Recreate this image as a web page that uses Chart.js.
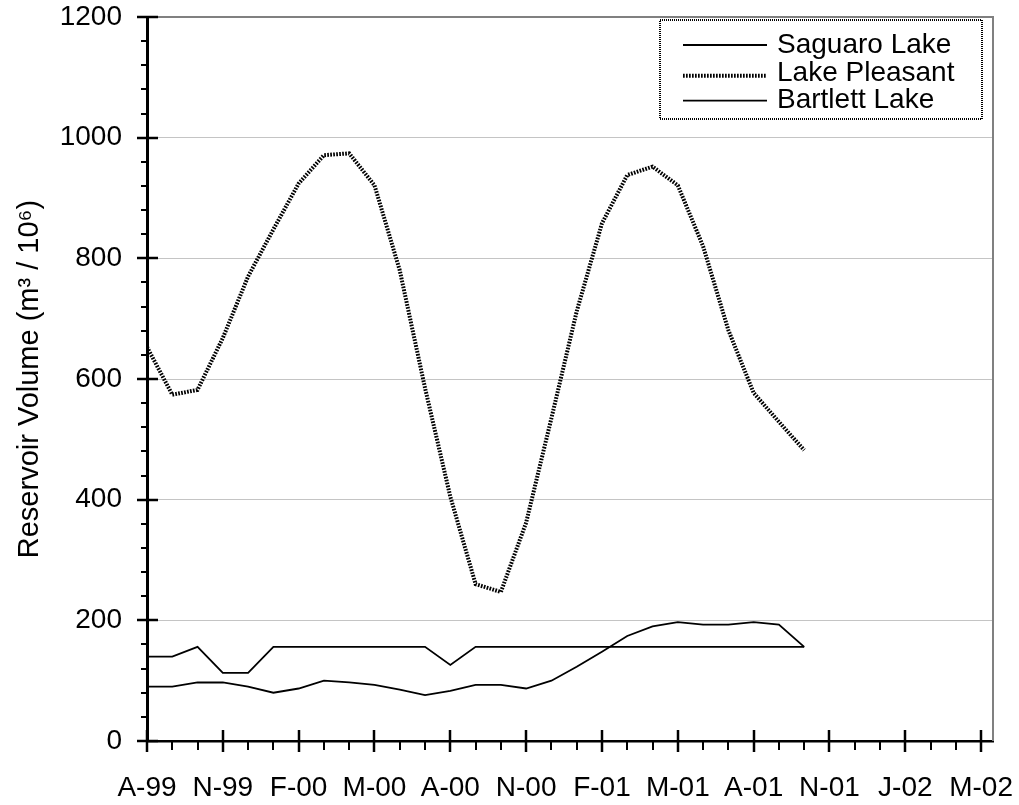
<!DOCTYPE html>
<html>
<head>
<meta charset="utf-8">
<script src="https://cdn.jsdelivr.net/npm/chart.js@4.4.1/dist/chart.umd.min.js"></script>
<style>
    html, body { margin: 0; padding: 0; background: #fff; }
    #wrap { width: 1019px; height: 805px; position: relative; }
</style>
</head>
<body>
<div id="wrap"><canvas id="chart"></canvas></div>
<script>
// months counted from Aug 1999
const months = [0, 1, 2, 3, 4, 5, 6, 7, 8, 9, 10, 11, 12, 13, 14, 15, 16, 17, 18, 19, 20, 21, 22, 23, 24, 25, 26];

const xTickPos = [0, 3, 6, 9, 12, 15, 18, 21, 24, 27, 30, 33];
const xTickLabels = ["A-99", "N-99", "F-00", "M-00", "A-00", "N-00", "F-01", "M-01", "A-01", "N-01", "J-02", "M-02"];

// reservoir volume, m3 / 10^6
const saguaro = [140, 140, 156, 113, 113, 156, 156, 156, 156, 156, 156, 156, 126, 156,
    156, 156, 156, 156, 156, 156, 156, 156, 156, 156, 156, 156, 156];
const pleasant = [653, 574, 582, 668, 770, 848, 924, 971, 974, 921, 780, 585, 405, 260,
    247, 362, 535, 712, 858, 938, 952, 921, 820, 681, 577, 529, 482];
const bartlett = [90, 90, 97, 97, 90, 80, 87, 100, 97, 93, 85, 76, 83, 93,
    93, 87, 100, 123, 148, 174, 190, 197, 193, 193, 197, 193, 156];

const FONT = "'Liberation Sans', Arial, sans-serif";

function toPoints(values) {
    return values.map((v, i) => ({ x: months[i], y: v }));
}

// ==========================
// TICK MARKS, FRAME, LEGEND
// ==========================

const decorations = {
    id: "decorations",
    afterDraw(chart) {
        const c = chart.ctx;
        const area = chart.chartArea;
        const xs = chart.scales.x;
        const ys = chart.scales.y;

        c.save();

        // right frame
        c.strokeStyle = "#808080";
        c.lineWidth = 2;
        c.beginPath();
        c.moveTo(area.right, area.top - 1);
        c.lineTo(area.right, area.bottom);
        c.stroke();

        c.strokeStyle = "#000";

        // y ticks
        for (let v = 0; v <= 1200; v += 40) {
            const py = Math.round(ys.getPixelForValue(v));
            c.beginPath();
            if (v % 200 === 0) {
                c.lineWidth = 2.5;
                c.moveTo(area.left - 10, py);
                c.lineTo(area.left + 11, py);
            } else {
                c.lineWidth = 2;
                c.moveTo(area.left - 6, py);
                c.lineTo(area.left, py);
            }
            c.stroke();
        }

        // x ticks
        for (let m = 0; m <= 33; m++) {
            const px = Math.round(xs.getPixelForValue(m));
            c.beginPath();
            if (m % 3 === 0) {
                c.lineWidth = 2.5;
                c.moveTo(px, area.bottom - 11);
                c.lineTo(px, area.bottom + 11);
            } else {
                c.lineWidth = 2;
                c.moveTo(px, area.bottom);
                c.lineTo(px, area.bottom + 9);
            }
            c.stroke();
        }

        // legend box
        const bx = 660, by = 20, bw = 322, bh = 99;
        c.fillStyle = "#fff";
        c.fillRect(bx, by, bw, bh);
        c.lineWidth = 2;
        c.setLineDash([1, 1]);
        c.strokeStyle = "#000";
        c.strokeRect(bx, by, bw, bh);

        c.font = "28px " + FONT;
        c.textBaseline = "middle";
        c.textAlign = "left";
        chart.data.datasets.forEach((ds, i) => {
            const ry = 44 + i * 27.8;
            c.setLineDash(ds.borderDash || []);
            c.lineWidth = ds.borderWidth;
            c.strokeStyle = ds.borderColor;
            c.beginPath();
            c.moveTo(683, ry + (i === 1 ? 4 : 1));
            c.lineTo(767, ry + (i === 1 ? 4 : 1));
            c.stroke();
            c.setLineDash([]);
            c.fillStyle = "#000";
            c.fillText(ds.label, 777, ry + 1);
        });

        c.restore();
    }
};

// ==========================
// CHART
// ==========================

new Chart(document.getElementById("chart"), {
    type: "line",
    data: {
        datasets: [
            {
                label: "Saguaro Lake",
                data: toPoints(saguaro),
                borderColor: "#000",
                borderWidth: 1.8,
                pointRadius: 0,
                tension: 0
            },
            {
                label: "Lake Pleasant",
                data: toPoints(pleasant),
                borderColor: "#000",
                borderWidth: 4,
                borderDash: [1.7, 1.3],
                borderCapStyle: "butt",
                pointRadius: 0,
                tension: 0
            },
            {
                label: "Bartlett Lake",
                data: toPoints(bartlett),
                borderColor: "#000",
                borderWidth: 1.8,
                pointRadius: 0,
                tension: 0
            }
        ]
    },
    options: {
        responsive: true,
        maintainAspectRatio: false,
        animation: false,
        layout: {
            padding: { top: 17, right: 26, left: 0, bottom: 0 }
        },
        plugins: {
            legend: { display: false },
            tooltip: { enabled: false }
        },
        scales: {
            x: {
                type: "linear",
                min: 0,
                max: 33.47,
                afterBuildTicks: scale => {
                    scale.ticks = xTickPos.map(v => ({ value: v }));
                },
                afterFit: scale => {
                    scale.height = 64;
                    scale.paddingLeft = 0;
                    scale.paddingRight = 0;
                },
                grid: {
                    display: false,
                    drawTicks: false
                },
                border: {
                    display: true,
                    color: "#000",
                    width: 2.5
                },
                ticks: {
                    autoSkip: false,
                    maxRotation: 0,
                    padding: 30,
                    color: "#000",
                    font: { size: 28, family: FONT },
                    callback: value => xTickLabels[xTickPos.indexOf(value)]
                }
            },
            y: {
                min: 0,
                max: 1200,
                afterFit: scale => {
                    scale.width = 147;
                    scale.paddingTop = 0;
                    scale.paddingBottom = 0;
                },
                grid: {
                    drawTicks: false,
                    color: ctx => ctx.tick && ctx.tick.value === 1200 ? "#808080" : "#c4c4c4",
                    lineWidth: ctx => ctx.tick && ctx.tick.value === 1200 ? 2 : 1
                },
                border: {
                    display: true,
                    color: "#000",
                    width: 3
                },
                ticks: {
                    stepSize: 200,
                    padding: 25,
                    color: "#000",
                    font: { size: 28, family: FONT },
                    callback: value => String(value)
                },
                title: {
                    display: true,
                    text: "Reservoir Volume (m³ / 10⁶)",
                    color: "#000",
                    font: { size: 29, family: FONT },
                    padding: { top: 13, bottom: 0 }
                }
            }
        }
    },
    plugins: [decorations]
});
</script>
</body>
</html>
